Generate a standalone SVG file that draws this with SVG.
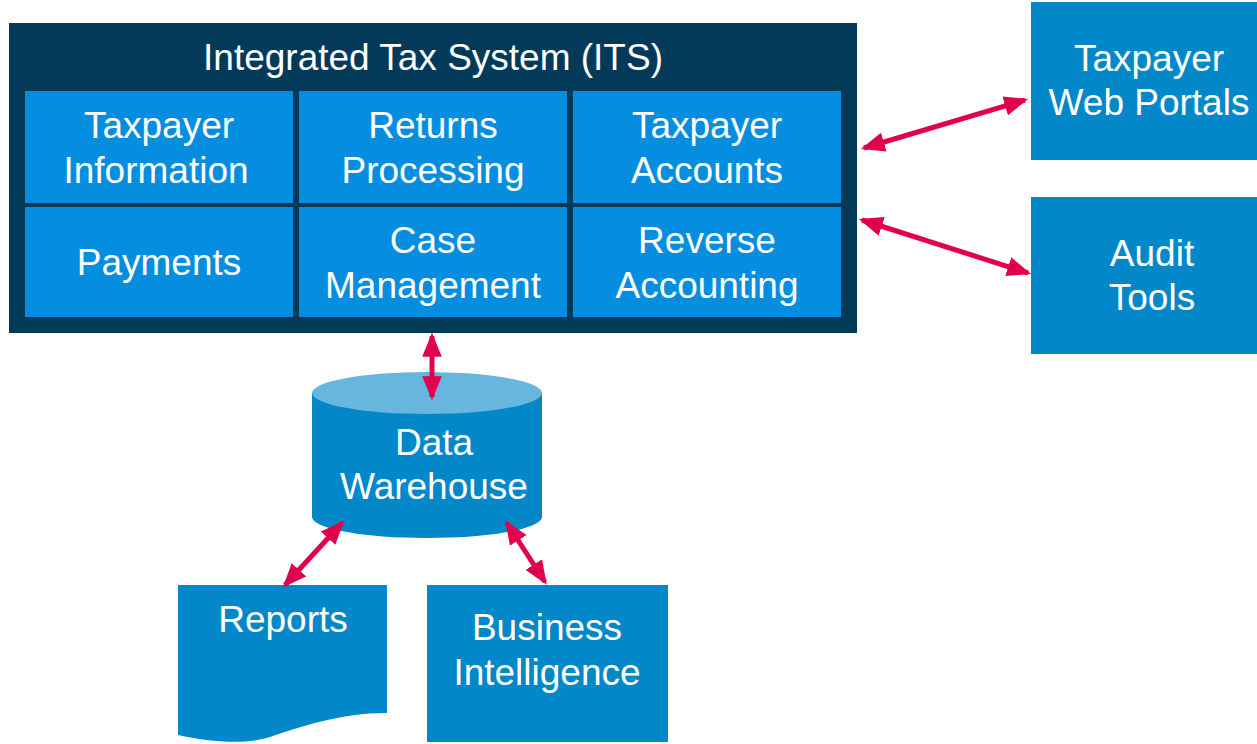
<svg xmlns="http://www.w3.org/2000/svg" width="1257" height="744" viewBox="0 0 1257 744">
  <style>
    .t { font-family: "Liberation Sans", Arial, sans-serif; font-size: 37px; fill: #ffffff; text-anchor: middle; }
    .cell { fill: #058EE0; }
    .box { fill: #0288C8; }
    .conn { stroke: #E0004D; stroke-width: 5; fill: none; marker-start: url(#ah); marker-end: url(#ah); }
  </style>
  <defs>
    <marker id="ah" markerUnits="userSpaceOnUse" markerWidth="24" markerHeight="20" refX="19" refY="9" orient="auto-start-reverse" viewBox="0 0 22 18">
      <path d="M0,0 L22,9 L0,18 Z" fill="#E0004D"/>
    </marker>
  </defs>
  <rect width="1257" height="744" fill="#ffffff"/>

  <g id="its">
    <rect x="9" y="23" width="848" height="310" fill="#033A5A"/>
    <text class="t" x="433" y="70">Integrated Tax System (ITS)</text>
  </g>
  <g id="taxpayer-information">
    <rect class="cell" x="25" y="91" width="268" height="112"/>
    <text class="t" x="159" y="138">Taxpayer</text>
    <text class="t" x="156" y="183">Information</text>
  </g>
  <g id="returns-processing">
    <rect class="cell" x="299" y="91" width="268" height="112"/>
    <text class="t" x="433" y="138">Returns</text>
    <text class="t" x="433" y="183">Processing</text>
  </g>
  <g id="taxpayer-accounts">
    <rect class="cell" x="573" y="91" width="268" height="112"/>
    <text class="t" x="707" y="138">Taxpayer</text>
    <text class="t" x="707" y="183">Accounts</text>
  </g>
  <g id="payments">
    <rect class="cell" x="25" y="207" width="268" height="110"/>
    <text class="t" x="159" y="275">Payments</text>
  </g>
  <g id="case-management">
    <rect class="cell" x="299" y="207" width="268" height="110"/>
    <text class="t" x="433" y="253">Case</text>
    <text class="t" x="433" y="298">Management</text>
  </g>
  <g id="reverse-accounting">
    <rect class="cell" x="573" y="207" width="268" height="110"/>
    <text class="t" x="707" y="253">Reverse</text>
    <text class="t" x="707" y="298">Accounting</text>
  </g>

  <g id="web-portals">
    <rect class="box" x="1031" y="2" width="240" height="158"/>
    <text class="t" x="1149" y="71">Taxpayer</text>
    <text class="t" x="1149" y="115">Web Portals</text>
  </g>
  <g id="audit-tools">
    <rect class="box" x="1031" y="197" width="240" height="157"/>
    <text class="t" x="1152" y="266">Audit</text>
    <text class="t" x="1152" y="310">Tools</text>
  </g>

  <g id="data-warehouse">
    <path class="box" d="M312,393 V517 A115,21 0 0 0 542,517 V393 Z"/>
    <ellipse cx="427" cy="393" rx="115" ry="21" fill="#67B6DD"/>
    <text class="t" x="434" y="455">Data</text>
    <text class="t" x="434" y="499">Warehouse</text>
  </g>

  <g id="reports">
    <path class="box" d="M178,585 H387 V713 C340,713 300,727 270,737 C245,745 210,742 178,735 Z"/>
    <text class="t" x="283" y="632">Reports</text>
  </g>

  <g id="business-intelligence">
    <rect class="box" x="427" y="585" width="241" height="157"/>
    <text class="t" x="547" y="640">Business</text>
    <text class="t" x="547" y="685">Intelligence</text>
  </g>

  <g id="connectors">
    <line class="conn" x1="864" y1="148" x2="1025" y2="100"/>
    <line class="conn" x1="862" y1="220" x2="1028" y2="273"/>
    <line class="conn" x1="432" y1="336" x2="432" y2="397"/>
    <line class="conn" x1="342" y1="523" x2="285" y2="585"/>
    <line class="conn" x1="507" y1="523" x2="545" y2="582"/>
  </g>
</svg>
